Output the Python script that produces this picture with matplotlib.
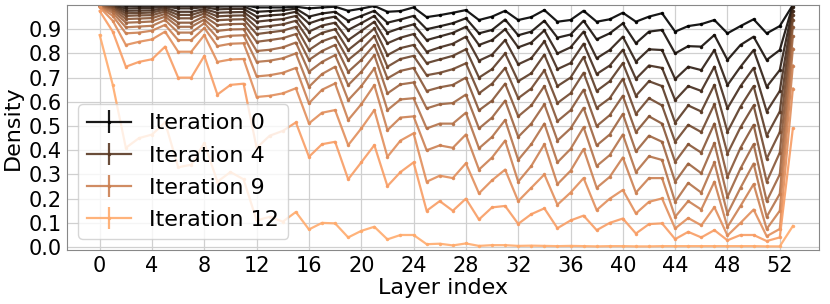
import numpy as np
import matplotlib
matplotlib.use('Agg')
from matplotlib import pyplot as plt

layers = list(range(54))
shown = [0, 4, 9, 12]

# density per layer, one list per pruning iteration
it0 = [1.0, 1.0, 1.0, 1.0, 1.0, 1.0, 1.0, 1.0, 1.0, 1.0, 1.0, 1.0,
       0.99, 0.99, 0.99, 0.993, 0.986, 0.99, 0.993, 0.976, 0.985, 0.996, 0.972, 0.975, 0.99,
       0.95, 0.958, 0.968, 0.979, 0.938, 0.952, 0.976, 0.938, 0.95, 0.979, 0.931, 0.938, 0.976, 0.931, 0.941, 0.968, 0.931, 0.952,
       0.966, 0.89, 0.913, 0.921, 0.938, 0.883, 0.913, 0.941, 0.883, 0.913, 1.0]
it1 = [1.0, 1.0, 0.996, 0.996, 0.996, 0.998, 0.995, 0.995, 0.997, 0.993, 0.994, 0.994,
       0.972, 0.975, 0.978, 0.985, 0.952, 0.965, 0.972, 0.935, 0.955, 0.976, 0.927, 0.94, 0.955,
       0.90, 0.912, 0.925, 0.945, 0.883, 0.897, 0.94, 0.875, 0.89, 0.935, 0.865, 0.878, 0.935, 0.858, 0.883, 0.924, 0.842, 0.89,
       0.897, 0.80, 0.83, 0.828, 0.876, 0.773, 0.835, 0.869, 0.773, 0.814, 1.0]
it2 = [1.0, 0.998, 0.986, 0.987, 0.988, 0.994, 0.986, 0.986, 0.991, 0.982, 0.984, 0.984,
       0.952, 0.957, 0.961, 0.972, 0.924, 0.942, 0.952, 0.897, 0.925, 0.955, 0.886, 0.905, 0.92,
       0.855, 0.87, 0.885, 0.91, 0.835, 0.855, 0.90, 0.825, 0.845, 0.895, 0.80, 0.825, 0.89, 0.78, 0.814, 0.869, 0.766, 0.817,
       0.814, 0.694, 0.745, 0.731, 0.814, 0.669, 0.745, 0.814, 0.662, 0.731, 0.99]
it3 = [1.0, 0.996, 0.976, 0.977, 0.978, 0.988, 0.972, 0.972, 0.983, 0.968, 0.97, 0.971,
       0.931, 0.937, 0.942, 0.955, 0.89, 0.915, 0.927, 0.855, 0.893, 0.931, 0.842, 0.865, 0.88,
       0.807, 0.825, 0.84, 0.869, 0.77, 0.795, 0.855, 0.755, 0.78, 0.85, 0.735, 0.76, 0.84, 0.715, 0.75, 0.815, 0.695, 0.75,
       0.74, 0.607, 0.665, 0.645, 0.745, 0.573, 0.665, 0.74, 0.56, 0.645, 0.975]
it4 = [1.0, 0.993, 0.966, 0.967, 0.969, 0.981, 0.959, 0.959, 0.975, 0.953, 0.956, 0.957,
       0.907, 0.913, 0.92, 0.935, 0.855, 0.885, 0.90, 0.814, 0.857, 0.903, 0.793, 0.822, 0.835,
       0.76, 0.775, 0.79, 0.817, 0.70, 0.735, 0.80, 0.685, 0.718, 0.795, 0.665, 0.70, 0.785, 0.645, 0.685, 0.76, 0.625, 0.685,
       0.665, 0.514, 0.585, 0.56, 0.67, 0.476, 0.58, 0.665, 0.46, 0.56, 0.96]
it5 = [0.999, 0.989, 0.955, 0.957, 0.958, 0.973, 0.945, 0.945, 0.965, 0.937, 0.94, 0.941,
       0.88, 0.887, 0.894, 0.91, 0.814, 0.85, 0.869, 0.773, 0.817, 0.872, 0.745, 0.777, 0.79,
       0.71, 0.72, 0.735, 0.759, 0.635, 0.675, 0.74, 0.615, 0.655, 0.73, 0.595, 0.635, 0.72, 0.575, 0.615, 0.695, 0.55, 0.615,
       0.585, 0.435, 0.505, 0.475, 0.59, 0.386, 0.495, 0.585, 0.365, 0.475, 0.94]
it6 = [0.998, 0.984, 0.942, 0.944, 0.946, 0.963, 0.927, 0.927, 0.953, 0.917, 0.921, 0.922,
       0.848, 0.855, 0.863, 0.88, 0.773, 0.81, 0.835, 0.724, 0.773, 0.835, 0.697, 0.728, 0.74,
       0.645, 0.66, 0.67, 0.70, 0.565, 0.605, 0.675, 0.54, 0.585, 0.665, 0.52, 0.565, 0.65, 0.50, 0.545, 0.625, 0.475, 0.54,
       0.51, 0.352, 0.425, 0.39, 0.51, 0.29, 0.41, 0.505, 0.27, 0.39, 0.91]
it7 = [0.997, 0.977, 0.927, 0.929, 0.932, 0.952, 0.91, 0.91, 0.94, 0.893, 0.899, 0.90,
       0.81, 0.815, 0.825, 0.845, 0.724, 0.765, 0.793, 0.669, 0.724, 0.793, 0.635, 0.672, 0.68,
       0.573, 0.59, 0.595, 0.63, 0.49, 0.535, 0.605, 0.455, 0.51, 0.59, 0.44, 0.49, 0.575, 0.42, 0.465, 0.55, 0.395, 0.46,
       0.435, 0.27, 0.345, 0.305, 0.43, 0.207, 0.325, 0.425, 0.19, 0.30, 0.87]
it8 = [0.995, 0.968, 0.908, 0.911, 0.914, 0.938, 0.886, 0.886, 0.925, 0.865, 0.873, 0.875,
       0.765, 0.77, 0.78, 0.80, 0.662, 0.715, 0.745, 0.607, 0.665, 0.738, 0.566, 0.61, 0.615,
       0.49, 0.51, 0.51, 0.555, 0.408, 0.455, 0.525, 0.36, 0.425, 0.51, 0.35, 0.405, 0.495, 0.335, 0.38, 0.465, 0.31, 0.375,
       0.36, 0.187, 0.265, 0.225, 0.35, 0.138, 0.245, 0.345, 0.125, 0.22, 0.82]
it9 = [0.993, 0.955, 0.883, 0.886, 0.894, 0.918, 0.855, 0.855, 0.905, 0.83, 0.84, 0.842,
       0.705, 0.71, 0.72, 0.74, 0.594, 0.65, 0.676, 0.525, 0.59, 0.669, 0.483, 0.535, 0.54,
       0.40, 0.42, 0.41, 0.465, 0.32, 0.37, 0.44, 0.27, 0.335, 0.425, 0.26, 0.315, 0.405, 0.245, 0.29, 0.37, 0.225, 0.285,
       0.285, 0.125, 0.19, 0.155, 0.27, 0.083, 0.17, 0.26, 0.075, 0.15, 0.75]
it10 = [0.99, 0.935, 0.835, 0.848, 0.858, 0.89, 0.807, 0.807, 0.876, 0.765, 0.775, 0.777,
        0.62, 0.625, 0.635, 0.656, 0.511, 0.555, 0.566, 0.421, 0.49, 0.566, 0.373, 0.44, 0.47,
        0.27, 0.295, 0.285, 0.346, 0.222, 0.276, 0.32, 0.19, 0.245, 0.30, 0.175, 0.225, 0.285, 0.153, 0.20, 0.236, 0.139, 0.187,
        0.201, 0.077, 0.12, 0.09, 0.165, 0.048, 0.10, 0.155, 0.045, 0.075, 0.655]
it11 = [0.975, 0.89, 0.745, 0.765, 0.776, 0.828, 0.70, 0.70, 0.79, 0.63, 0.67, 0.675,
        0.41, 0.46, 0.48, 0.515, 0.373, 0.425, 0.435, 0.28, 0.35, 0.421, 0.252, 0.31, 0.35,
        0.15, 0.19, 0.15, 0.20, 0.114, 0.164, 0.17, 0.096, 0.136, 0.16, 0.078, 0.11, 0.13, 0.07, 0.10, 0.118, 0.056, 0.095,
        0.098, 0.033, 0.063, 0.04, 0.07, 0.028, 0.05, 0.05, 0.025, 0.04, 0.49]
it12 = [0.876, 0.67, 0.41, 0.45, 0.465, 0.515, 0.33, 0.34, 0.43, 0.27, 0.31, 0.28,
        0.11, 0.125, 0.105, 0.145, 0.073, 0.10, 0.098, 0.04, 0.067, 0.084, 0.032, 0.05, 0.05,
        0.012, 0.014, 0.007, 0.015, 0.005, 0.008, 0.008, 0.005, 0.006, 0.005, 0.004, 0.005, 0.004, 0.003, 0.004, 0.004, 0.003, 0.003,
        0.004, 0.004, 0.004, 0.004, 0.004, 0.004, 0.004, 0.004, 0.003, 0.003, 0.087]

density = [it0, it1, it2, it3, it4, it5, it6, it7, it8, it9, it10, it11, it12]

fig, ax = plt.subplots(figsize=(8.3, 3.04), dpi=100)
fig.subplots_adjust(left=67/830, right=819/830, top=1-5/304, bottom=1-250/304)

cmap = plt.get_cmap('copper')
for i, d in enumerate(density):
    lab = 'Iteration %d' % i if i in shown else None
    ax.errorbar(layers, d, yerr=np.zeros(len(d)), color=cmap(i / 14), alpha=0.9,
                lw=1.6, marker='.', markersize=3, label=lab)

ax.set_xlim(-2.5, 55)
ax.set_ylim(-0.012, 1.0)
ax.set_xticks(range(0, 53, 4))
ax.set_yticks(np.arange(0, 0.95, 0.1))
ax.set_yticklabels(['%.1f' % v for v in np.arange(0, 0.95, 0.1)])
ax.tick_params(labelsize=15, length=0, pad=4)
ax.grid(True, color='#d0d0d0', lw=0.9)
ax.set_axisbelow(True)
for s in ax.spines.values():
    s.set_color('#888888')
ax.set_xlabel('Layer index', fontsize=16, labelpad=2)
ax.set_ylabel('Density', fontsize=16, labelpad=4)
ax.legend(loc='lower left', fontsize=16, labelspacing=0.55)

plt.savefig('out.png', dpi=100)
